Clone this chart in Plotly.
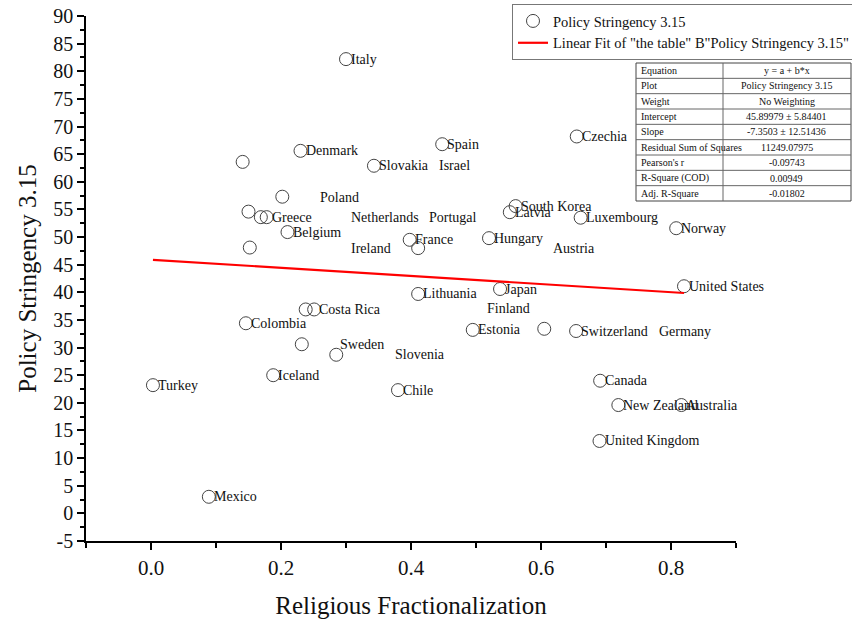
import plotly.graph_objects as go

# ---- data ----
countries = ["Italy", "Czechia", "Spain", "Denmark", "Slovakia", "", "", "", "", "Greece",
             "Belgium", "", "South Korea", "Latvia", "Luxembourg", "France", "", "Hungary",
             "Norway", "United States", "Lithuania", "Japan", "", "Costa Rica", "Colombia",
             "Estonia", "", "Switzerland", "", "", "Iceland", "Chile", "Turkey", "Canada",
             "New Zealand", "Australia", "United Kingdom", "Mexico"]
religious_frac = [0.300, 0.655, 0.448, 0.230, 0.343, 0.141, 0.202, 0.150, 0.169, 0.178,
                  0.210, 0.152, 0.561, 0.552, 0.661, 0.398, 0.411, 0.520,
                  0.808, 0.820, 0.411, 0.537, 0.238, 0.251, 0.146,
                  0.495, 0.605, 0.654, 0.232, 0.285, 0.188, 0.380, 0.003, 0.691,
                  0.719, 0.816, 0.690, 0.089]
policy_stringency = [82.2, 68.2, 66.8, 65.6, 62.9, 63.6, 57.3, 54.6, 53.6, 53.6,
                     50.9, 48.1, 55.6, 54.5, 53.5, 49.5, 48.0, 49.8,
                     51.6, 41.1, 39.7, 40.6, 36.9, 36.9, 34.4,
                     33.2, 33.4, 33.0, 30.6, 28.7, 25.0, 22.3, 23.2, 24.0,
                     19.6, 19.6, 13.1, 3.0]

# labels that sit away from their points in the original figure
detached_labels = ["Israel", "Poland", "Netherlands", "Portugal", "Ireland",
                   "Austria", "Finland", "Germany", "Slovenia", "Sweden"]
detached_x = [0.445, 0.262, 0.309, 0.429, 0.309, 0.620, 0.518, 0.783, 0.377, 0.292]
detached_y = [62.9, 57.2, 53.6, 53.6, 48.0, 48.0, 37.0, 33.0, 28.7, 30.5]

fit_intercept = 45.89979
fit_slope = -7.3503

table_labels = ["Equation", "Plot", "Weight", "Intercept", "Slope",
                "Residual Sum of Squares", "Pearson's r", "R-Square (COD)", "Adj. R-Square"]
table_values = ["y = a + b*x", "Policy Stringency 3.15", "No Weighting",
                "45.89979 ± 5.84401", "-7.3503 ± 12.51436", "11249.07975",
                "-0.09743", "0.00949", "-0.01802"]

x_tickvals = [0.0, 0.2, 0.4, 0.6, 0.8]
x_ticktext = ["0.0", "0.2", "0.4", "0.6", "0.8"]
y_tickvals = [-5, 0, 5, 10, 15, 20, 25, 30, 35, 40, 45, 50, 55, 60, 65, 70, 75, 80, 85, 90]
y_ticktext = ["-5", "0", "5", "10", "15", "20", "25", "30", "35", "40", "45",
              "50", "55", "60", "65", "70", "75", "80", "85", "90"]

# ---- figure ----
FONT = "Liberation Serif, Times New Roman, serif"
W, H = 852, 626
ML, MR, MT, MB = 86, 116, 16, 85
PW, PH = W - ML - MR, H - MT - MB


def px2paper(px, py):
    return (px - ML) / PW, (H - MB - py) / PH


fig = go.Figure()

fig.add_trace(go.Scatter(
    x=religious_frac, y=policy_stringency, mode="markers",
    marker=dict(symbol="circle-open", size=13, color="#444", line=dict(width=1, color="#444")),
    name="Policy Stringency 3.15", cliponaxis=False,
))

xmin, xmax = min(religious_frac), max(religious_frac)
fig.add_trace(go.Scatter(
    x=[xmin, xmax], y=[fit_intercept + fit_slope * xmin, fit_intercept + fit_slope * xmax],
    mode="lines", line=dict(color="#ff0000", width=2.2),
    name='Linear Fit of "the table" B"Policy Stringency 3.15"',
))

annotations = []
label_font = dict(family=FONT, size=14, color="#111")
for name, xv, yv in zip(countries, religious_frac, policy_stringency):
    if name:
        annotations.append(dict(x=xv, y=yv, xref="x", yref="y", text=name, showarrow=False,
                                xanchor="left", yanchor="middle", xshift=3, font=label_font))
for name, xv, yv in zip(detached_labels, detached_x, detached_y):
    annotations.append(dict(x=xv, y=yv, xref="x", yref="y", text=name, showarrow=False,
                            xanchor="left", yanchor="middle", xshift=-3, font=label_font))

# stats table (drawn with shapes + annotations)
shapes = []
tl, tm, tr = 636, 723, 851
tt, tb = 63, 201
rh = (tb - tt) / len(table_labels)
x0, y0 = px2paper(tl, tt)
x1, y1 = px2paper(tr, tb)
shapes.append(dict(type="rect", xref="paper", yref="paper", x0=x0, x1=x1, y0=y1, y1=y0,
                   line=dict(color="#444", width=1), fillcolor="white", layer="above"))
xm, _ = px2paper(tm, tt)
shapes.append(dict(type="line", xref="paper", yref="paper", x0=xm, x1=xm, y0=y1, y1=y0,
                   line=dict(color="#666", width=1)))
for i in range(1, len(table_labels)):
    _, yy = px2paper(tl, tt + i * rh)
    shapes.append(dict(type="line", xref="paper", yref="paper", x0=x0, x1=x1, y0=yy, y1=yy,
                       line=dict(color="#666", width=1)))
for i, (lab, val) in enumerate(zip(table_labels, table_values)):
    _, yc = px2paper(tl, tt + (i + 0.5) * rh)
    xl, _ = px2paper(tl + 3, tt)
    xc, _ = px2paper((tm + tr) / 2, tt)
    annotations.append(dict(xref="paper", yref="paper", x=xl, y=yc, text=lab, showarrow=False,
                            xanchor="left", yanchor="middle",
                            font=dict(family=FONT, size=10, color="#111")))
    annotations.append(dict(xref="paper", yref="paper", x=xc, y=yc, text=val, showarrow=False,
                            xanchor="center", yanchor="middle",
                            font=dict(family=FONT, size=10, color="#111")))

fig.update_layout(
    width=W, height=H,
    margin=dict(l=ML, r=MR, t=MT, b=MB, autoexpand=False),
    plot_bgcolor="white", paper_bgcolor="white",
    font=dict(family=FONT, color="#111"),
    showlegend=True,
    legend=dict(xref="container", yref="container", x=512 / W, y=1 - 4 / H,
                xanchor="left", yanchor="top", bgcolor="white",
                bordercolor="#777", borderwidth=1, font=dict(family=FONT, size=14.5, color="#111"),
                tracegroupgap=0, itemwidth=30),
    shapes=shapes, annotations=annotations,
    xaxis=dict(range=[-0.1, 0.9], tickvals=x_tickvals, ticktext=x_ticktext, automargin=False,
               showgrid=False, zeroline=False, showline=True, linecolor="black", linewidth=1.5,
               ticks="outside", ticklen=7, tickwidth=1.5, tickcolor="black",
               minor=dict(dtick=0.1, tick0=0, ticks="outside", ticklen=5, tickwidth=1.5, tickcolor="black"),
               tickfont=dict(family=FONT, size=21, color="#111"),
               title=dict(text="Religious Fractionalization", font=dict(family=FONT, size=25, color="#111"),
                          standoff=18)),
    yaxis=dict(range=[-5, 90], tickvals=y_tickvals, ticktext=y_ticktext, automargin=False,
               showgrid=False, zeroline=False, showline=True, linecolor="black", linewidth=1.5,
               ticks="outside", ticklen=7, tickwidth=1.5, tickcolor="black",
               minor=dict(dtick=2.5, tick0=0, ticks="outside", ticklen=4, tickwidth=1.5, tickcolor="black"),
               tickfont=dict(family=FONT, size=20, color="#111"),
               title=dict(text="Policy Stringency 3.15", font=dict(family=FONT, size=25, color="#111"),
                          standoff=10)),
)

fig.write_html("out.html", config={"displayModeBar": False},
               post_script="document.body.style.margin='0';")
